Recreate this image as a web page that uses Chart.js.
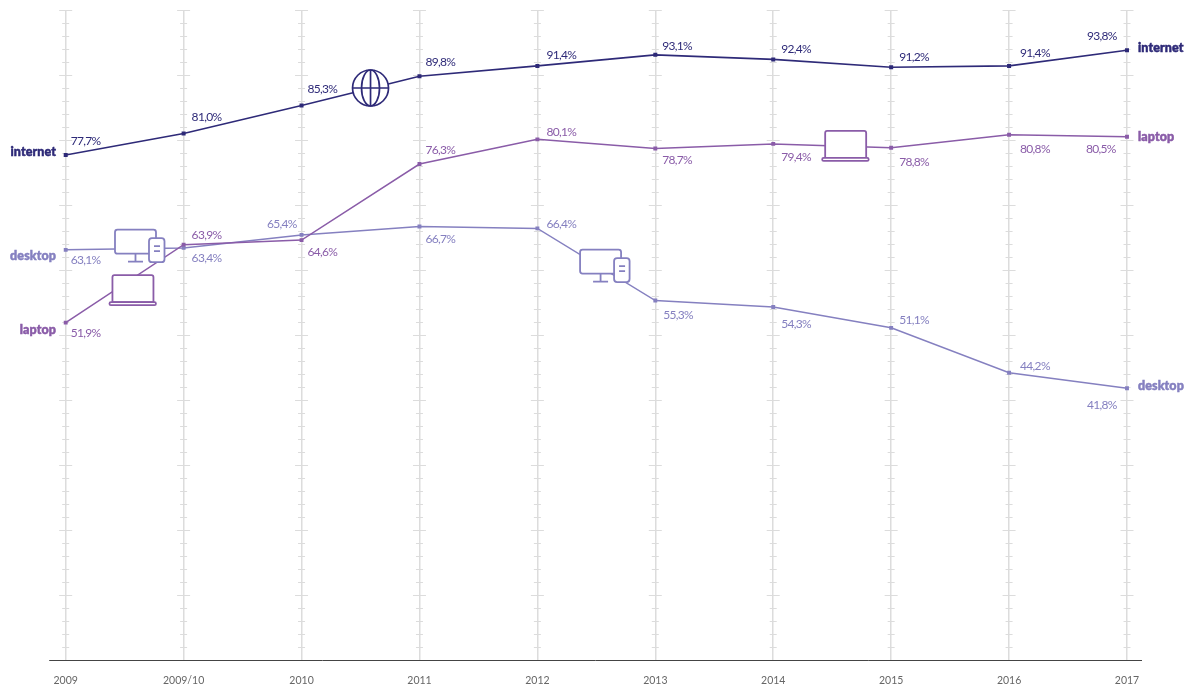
<!DOCTYPE html>
<html>
<head>
<meta charset="utf-8">
<title>internet, laptop, desktop</title>
<style>
  html, body { margin: 0; padding: 0; background: #fff; }
  canvas { display: block; }
</style>
</head>
<body>
<canvas id="chart" width="1191" height="689"></canvas>
<script src="https://cdn.jsdelivr.net/npm/chart.js@4/dist/chart.umd.min.js"></script>
<script>
const years = ['2009', '2009/10', '2010', '2011', '2012', '2013', '2014', '2015', '2016', '2017'];
const internet = [77.7, 81.0, 85.3, 89.8, 91.4, 93.1, 92.4, 91.2, 91.4, 93.8];
const laptop = [51.9, 63.9, 64.6, 76.3, 80.1, 78.7, 79.4, 78.8, 80.8, 80.5];
const desktop = [63.1, 63.4, 65.4, 66.7, 66.4, 55.3, 54.3, 51.1, 44.2, 41.8];

const internetColor = '#2e2a78';
const laptopColor = '#8a5ca8';
const desktopColor = '#8580c0';
const gridColor = '#dcdcdc';

// where each value label sits relative to its point: [dx to text left, dy to text middle]
const internetOffsets = [[5, -14], [8, -16.5], [6, -16.5], [6, -14], [9, -11], [7, -9], [8, -10], [8, -10], [11, -13], [-40, -14]];
const laptopOffsets = [[5, 10], [8, -10], [6, 12], [6, -14], [9, -7], [7, 12], [8, 13], [8, 14], [11, 14], [-41, 12]];
const desktopOffsets = [[5, 10], [8, 10], [-34.5, -11], [6, 12.5], [9, -4], [8, 14.5], [8, 17], [8, -8], [11, -7], [-40, 17]];

function comma(v) {
  return v.toFixed(1).replace('.', ',') + '%';
}

function line(label, data, color, width) {
  return {
    label: label,
    data: data,
    borderColor: color,
    backgroundColor: color,
    borderWidth: width,
    pointStyle: 'rect',
    pointRadius: 1.7,
    pointHoverRadius: 1.7,
    tension: 0,
    clip: false
  };
}

function roundBox(ctx, x, y, w, h, r) {
  ctx.beginPath();
  ctx.roundRect(x, y, w, h, r);
  ctx.fill();
  ctx.stroke();
}

function drawGlobe(ctx, cx, cy) {
  const r = 18;
  ctx.strokeStyle = internetColor;
  ctx.lineWidth = 1.7;
  ctx.fillStyle = '#fff';
  ctx.beginPath();
  ctx.arc(cx, cy, r, 0, Math.PI * 2);
  ctx.fill();
  ctx.stroke();
  ctx.beginPath();
  ctx.ellipse(cx, cy, 9, r, 0, 0, Math.PI * 2);
  ctx.moveTo(cx, cy - r);
  ctx.lineTo(cx, cy + r);
  ctx.moveTo(cx - r, cy);
  ctx.lineTo(cx + r, cy);
  ctx.stroke();
}

function drawDesktop(ctx, x, y) {
  ctx.strokeStyle = desktopColor;
  ctx.fillStyle = '#fff';
  ctx.lineWidth = 1.8;
  roundBox(ctx, x, y, 41, 24, 2.5);
  ctx.beginPath();
  ctx.moveTo(x + 20.5, y + 24);
  ctx.lineTo(x + 20.5, y + 32);
  ctx.moveTo(x + 13, y + 32);
  ctx.lineTo(x + 28, y + 32);
  ctx.stroke();
  roundBox(ctx, x + 34, y + 8.5, 15.5, 24, 3);
  ctx.beginPath();
  ctx.moveTo(x + 39, y + 16.5);
  ctx.lineTo(x + 45, y + 16.5);
  ctx.moveTo(x + 39, y + 21.5);
  ctx.lineTo(x + 45, y + 21.5);
  ctx.stroke();
}

function drawLaptop(ctx, x, y) {
  ctx.strokeStyle = laptopColor;
  ctx.fillStyle = '#fff';
  ctx.lineWidth = 1.8;
  roundBox(ctx, x + 3, y, 41, 27, [2, 2, 0, 0]);
  roundBox(ctx, x, y + 27, 46.5, 3, 1.5);
}

const icons = [
  { draw: drawGlobe, at: 2.585, value: 88 },
  { draw: drawDesktop, at: 0.418, value: 66.2 },
  { draw: drawLaptop, at: 0.371, value: 59.2 },
  { draw: drawDesktop, at: 4.362, value: 63.15 },
  { draw: drawLaptop, at: 6.415, value: 81.4 }
];

// short horizontal ticks on every vertical line, and the baseline that runs past the plot
const axisMarks = {
  id: 'axisMarks',
  beforeDatasetsDraw(chart) {
    const { ctx, scales: { x, y } } = chart;
    ctx.save();
    ctx.strokeStyle = gridColor;
    ctx.lineWidth = 1;
    years.forEach((_, i) => {
      const px = x.getPixelForValue(i);
      for (let v = 2; v <= 100; v += 2) {
        const half = v % 10 === 0 ? 6.5 : 3.5;
        const py = Math.round(y.getPixelForValue(v)) + 0.5;
        ctx.beginPath();
        ctx.moveTo(px - half, py);
        ctx.lineTo(px + half, py);
        ctx.stroke();
      }
    });
    ctx.strokeStyle = '#444';
    ctx.beginPath();
    ctx.moveTo(x.left - 16.5, y.bottom + 0.5);
    ctx.lineTo(x.right + 15, y.bottom + 0.5);
    ctx.stroke();
    ctx.restore();
  }
};

const annotations = {
  id: 'annotations',
  afterDatasetsDraw(chart) {
    const { ctx, scales: { x, y } } = chart;
    ctx.save();

    icons.forEach(icon => {
      icon.draw(ctx, x.getPixelForValue(icon.at), y.getPixelForValue(icon.value));
    });

    const rows = [
      [internet, internetColor, internetOffsets, 'internet', 152, 48],
      [laptop, laptopColor, laptopOffsets, 'laptop', 330, 137],
      [desktop, desktopColor, desktopOffsets, 'desktop', 256, 386]
    ];
    rows.forEach(([values, color, offsets, name, leftY, rightY]) => {
      ctx.fillStyle = color;
      ctx.strokeStyle = color;
      ctx.lineWidth = 0.5;
      ctx.textBaseline = 'middle';
      ctx.textAlign = 'left';
      ctx.font = '12px Lato';
      ctx.letterSpacing = '-0.7px';
      values.forEach((v, i) => {
        ctx.fillText(comma(v), x.getPixelForValue(i) + offsets[i][0], y.getPixelForValue(v) + offsets[i][1]);
      });
      // the series names are heavier than the installed bold, so thicken them a little
      ctx.font = '900 12.5px Lato';
      ctx.letterSpacing = '0.1px';
      ctx.textAlign = 'right';
      ctx.fillText(name, x.left - 9.7, leftY);
      ctx.strokeText(name, x.left - 9.7, leftY);
      ctx.textAlign = 'left';
      ctx.fillText(name, x.right + 11, rightY);
      ctx.strokeText(name, x.right + 11, rightY);
    });
    ctx.restore();
  }
};

new Chart(document.getElementById('chart'), {
  type: 'line',
  data: {
    labels: years,
    datasets: [
      line('internet', internet, internetColor, 1.6),
      line('laptop', laptop, laptopColor, 1.5),
      line('desktop', desktop, desktopColor, 1.5)
    ]
  },
  options: {
    responsive: false,
    animation: false,
    layout: { padding: { left: 65.7, right: 64, top: 10, bottom: 0 } },
    scales: {
      x: {
        offset: false,
        grid: { color: gridColor, lineWidth: 1.5, drawTicks: false },
        border: { display: false },
        ticks: {
          color: '#666',
          font: { family: 'Lato', size: 10.5 },
          padding: 14,
          maxRotation: 0,
          autoSkip: false
        },
        afterFit(scale) { scale.height = 29; }
      },
      y: {
        display: false,
        min: 0,
        max: 100
      }
    },
    plugins: {
      legend: { display: false },
      title: { display: false },
      tooltip: { enabled: false }
    }
  },
  plugins: [axisMarks, annotations]
});
</script>
</body>
</html>
